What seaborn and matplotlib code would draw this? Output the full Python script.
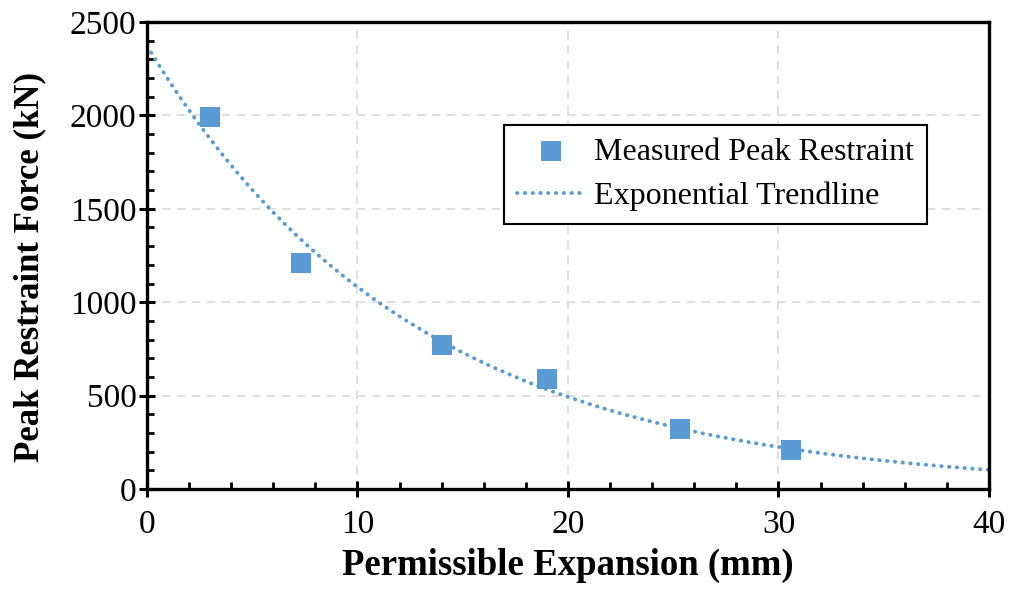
import numpy as np
import pandas as pd
import matplotlib
matplotlib.use("Agg")
import matplotlib.pyplot as plt
import seaborn as sns
from matplotlib.ticker import MultipleLocator

expansion_mm = [3.0, 7.3, 14.0, 19.0, 25.3, 30.6]
peak_force_kn = [1990, 1210, 770, 590, 320, 210]

df = pd.DataFrame({"Expansion": expansion_mm, "Force": peak_force_kn})

# Exponential trendline (least squares on ln y, like Excel)
b, ln_a = np.polyfit(df["Expansion"], np.log(df["Force"]), 1)
x_fit = np.linspace(0, 40, 200)
trend = pd.DataFrame({"Expansion": x_fit, "Force": np.exp(ln_a) * np.exp(b * x_fit)})

sns.set_style("white")
plt.rcParams["font.family"] = ["Liberation Serif", "DejaVu Serif"]
plt.rcParams["text.color"] = "black"
plt.rcParams["axes.labelcolor"] = "black"

blue = "#5B9BD5"

fig = plt.figure(figsize=(10.11, 5.90), dpi=100)
ax = fig.add_axes([0.1454, 0.1712, 0.8328, 0.7915])

sns.lineplot(data=trend, x="Expansion", y="Force", ax=ax, color=blue,
             linestyle=(0, (0.1, 1.9)), linewidth=2.8, dash_capstyle="round",
             label="Exponential Trendline", zorder=2)
sns.scatterplot(data=df, x="Expansion", y="Force", ax=ax, marker="s", s=210,
                color=blue, edgecolor=blue, linewidth=0,
                label="Measured Peak Restraint", zorder=3)

ax.set_xlim(0, 40)
ax.set_ylim(0, 2500)
ax.xaxis.set_major_locator(MultipleLocator(10))
ax.xaxis.set_minor_locator(MultipleLocator(2))
ax.yaxis.set_major_locator(MultipleLocator(500))
ax.yaxis.set_minor_locator(MultipleLocator(100))

ax.grid(True, which="major", color="#D9D9D9", linestyle=(0, (5, 4)), linewidth=1.2)
ax.set_axisbelow(True)

for sp in ax.spines.values():
    sp.set_linewidth(2.4)
    sp.set_color("black")

ax.tick_params(which="major", direction="inout", length=11, width=2.2,
               labelsize=24, colors="black", labelcolor="black")
ax.tick_params(which="minor", direction="in", length=5, width=2.0, colors="black")
ax.tick_params(axis="x", which="both", bottom=True, pad=9)
ax.tick_params(axis="y", which="both", left=True, pad=2)

ax.set_xlabel("Permissible Expansion (mm)", fontsize=26.5, fontweight="bold",
              labelpad=6, color="black")
ax.set_ylabel("Peak Restraint Force (kN)", fontsize=25, fontweight="bold",
              color="black")
ax.yaxis.set_label_coords(-0.12, 0.475)

handles, labels = ax.get_legend_handles_labels()
order = [labels.index("Measured Peak Restraint"), labels.index("Exponential Trendline")]
leg = ax.legend([handles[i] for i in order], [labels[i] for i in order],
                loc="upper right", bbox_to_anchor=(0.926, 0.78), fontsize=23,
                frameon=True, fancybox=False, edgecolor="black", framealpha=1,
                handlelength=2.1, handletextpad=0.3, borderpad=0.4,
                labelspacing=0.45, borderaxespad=0)
leg.get_frame().set_linewidth(1.5)
for t in leg.get_texts():
    t.set_color("black")

fig.savefig("out.png", dpi=100)
